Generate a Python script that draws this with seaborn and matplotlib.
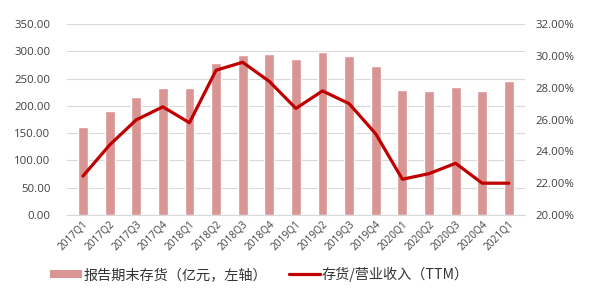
import numpy as np
import pandas as pd
import matplotlib
matplotlib.use("Agg")
import matplotlib.pyplot as plt
import seaborn as sns
from matplotlib.patches import Patch
from matplotlib.lines import Line2D
from matplotlib.ticker import FuncFormatter, MultipleLocator

quarters = ["2017Q1", "2017Q2", "2017Q3", "2017Q4", "2018Q1", "2018Q2", "2018Q3", "2018Q4",
            "2019Q1", "2019Q2", "2019Q3", "2019Q4", "2020Q1", "2020Q2", "2020Q3", "2020Q4", "2021Q1"]
inventory = [162, 191, 217, 233, 233, 279, 294, 295, 286, 298, 292, 273, 229, 228, 235, 228, 245]
ratio = [22.45, 24.4, 25.98, 26.8, 25.8, 29.1, 29.6, 28.4, 26.7, 27.8, 27.0, 25.1, 22.25, 22.6, 23.25, 22.0, 22.0]
bar_label = "报告期末存货（亿元，左轴）"
line_label = "存货/营业收入（TTM）"

df = pd.DataFrame({"q": quarters, "inv": inventory, "ratio": ratio})
df["pos"] = np.arange(len(df))

sns.set_style("white")
plt.rcParams["font.family"] = ["Open Sans", "Noto Sans CJK SC", "DejaVu Sans"]

bar_color = "#D99594"
line_color = "#C00000"

fig = plt.figure(figsize=(5.93, 3.05), dpi=100)
ax = fig.add_axes([0.113, 0.295, 0.772, 0.626])
sns.barplot(data=df, x="pos", y="inv", color=bar_color, width=0.37, ax=ax, saturation=1)
ax.set_ylim(0, 350)
ax.yaxis.set_major_locator(MultipleLocator(50))
ax.yaxis.set_major_formatter(FuncFormatter(lambda v, p: f"{v:.2f}"))
ax.grid(axis="y", color="#D9D9D9", linewidth=0.8)
ax.set_axisbelow(True)
ax.set_xticks(df["pos"])
ax.set_xticklabels(quarters, rotation=45, ha="right", rotation_mode="anchor", fontsize=7.3, color="#404040")
ax.set_xlabel("")
ax.set_ylabel("")
ax.set_xlim(-0.6, len(df) - 0.4)
for s in ["top", "right", "left"]:
    ax.spines[s].set_visible(False)
ax.spines["bottom"].set_color("#D9D9D9")
ax.tick_params(axis="y", labelsize=8.2, colors="#404040", length=0, pad=12)
ax.tick_params(axis="x", length=0, pad=3)

ax2 = ax.twinx()
sns.lineplot(data=df, x="pos", y="ratio", color=line_color, linewidth=2.3, ax=ax2)
ax2.set_ylim(20, 32)
ax2.yaxis.set_major_locator(MultipleLocator(2))
ax2.yaxis.set_major_formatter(FuncFormatter(lambda v, p: f"{v:.2f}%"))
ax2.set_ylabel("")
ax2.set_xlabel("")
for s in ["top", "right", "left", "bottom"]:
    ax2.spines[s].set_visible(False)
ax2.tick_params(axis="y", labelsize=8.2, colors="#404040", length=0, pad=8)
ax2.set_xlim(-0.6, len(df) - 0.4)

handles = [Patch(facecolor=bar_color, edgecolor="none"),
           Line2D([0], [0], color=line_color, linewidth=2.3)]
leg = fig.legend(handles, [bar_label, line_label], loc="center", bbox_to_anchor=(0.438, 0.1),
                 ncol=2, frameon=False, handlelength=2.2, handleheight=0.55,
                 columnspacing=1.5, handletextpad=0.15,
                 prop={"family": ["Noto Sans CJK SC", "DejaVu Sans"], "size": 10.2})
for t in leg.get_texts():
    t.set_color("#333333")

fig.savefig("out.png", dpi=100)
